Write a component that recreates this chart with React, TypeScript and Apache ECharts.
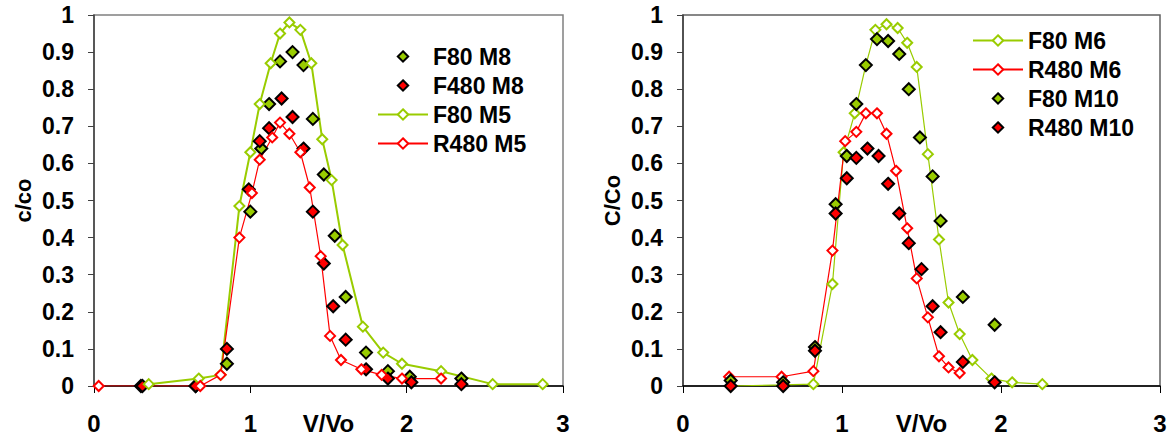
import React, { useEffect, useRef } from "react";
import * as echarts from "echarts";

// ---- Left chart data: [V/Vo, c/co] ----
const leftF80M8 = [[0.30,0.0],[0.65,0.0],[0.85,0.06],[1.00,0.47],[1.07,0.64],[1.12,0.76],[1.19,0.875],[1.27,0.90],[1.34,0.865],[1.40,0.72],[1.47,0.57],[1.54,0.405],[1.61,0.24],[1.74,0.09],[1.88,0.04],[2.02,0.025],[2.35,0.02]];
const leftF480M8 = [[0.31,0.0],[0.65,0.0],[0.85,0.10],[0.99,0.53],[1.06,0.66],[1.12,0.695],[1.20,0.775],[1.27,0.725],[1.34,0.64],[1.40,0.47],[1.47,0.33],[1.53,0.215],[1.61,0.125],[1.74,0.045],[1.88,0.02],[2.03,0.01],[2.35,0.005]];
const leftF80M5 = [[0.35,0.005],[0.67,0.02],[0.81,0.03],[0.93,0.485],[1.00,0.63],[1.06,0.76],[1.13,0.87],[1.19,0.95],[1.25,0.98],[1.32,0.96],[1.39,0.87],[1.46,0.665],[1.52,0.555],[1.59,0.38],[1.72,0.16],[1.85,0.09],[1.97,0.06],[2.22,0.04],[2.55,0.005],[2.87,0.005]];
const leftR480M5 = [[0.03,0.0],[0.68,0.0],[0.81,0.03],[0.93,0.40],[1.01,0.52],[1.06,0.61],[1.14,0.67],[1.19,0.71],[1.25,0.68],[1.32,0.63],[1.38,0.535],[1.45,0.35],[1.51,0.135],[1.58,0.07],[1.71,0.045],[1.84,0.03],[1.97,0.02],[2.22,0.02]];

// ---- Right chart data: [V/Vo, C/Co] ----
const rightF80M6 = [[0.30,0.0],[0.63,0.003],[0.82,0.005],[0.94,0.275],[1.01,0.63],[1.08,0.735],[1.15,0.865],[1.21,0.96],[1.28,0.975],[1.35,0.965],[1.41,0.925],[1.47,0.86],[1.54,0.625],[1.61,0.395],[1.67,0.225],[1.74,0.14],[1.82,0.07],[1.94,0.02],[2.07,0.01],[2.26,0.005]];
const rightR480M6 = [[0.29,0.025],[0.62,0.025],[0.82,0.04],[0.94,0.365],[1.02,0.66],[1.09,0.685],[1.15,0.735],[1.22,0.735],[1.28,0.68],[1.34,0.58],[1.41,0.425],[1.47,0.29],[1.54,0.185],[1.61,0.08],[1.67,0.05],[1.74,0.035]];
const rightF80M10 = [[0.30,0.015],[0.63,0.01],[0.83,0.105],[0.96,0.49],[1.03,0.62],[1.09,0.76],[1.15,0.865],[1.22,0.935],[1.29,0.93],[1.36,0.895],[1.42,0.80],[1.49,0.67],[1.57,0.565],[1.62,0.445],[1.76,0.24],[1.96,0.165]];
const rightR480M10 = [[0.30,0.0],[0.63,0.0],[0.83,0.095],[0.96,0.465],[1.03,0.56],[1.09,0.615],[1.16,0.64],[1.23,0.62],[1.29,0.545],[1.36,0.465],[1.42,0.385],[1.50,0.315],[1.57,0.215],[1.62,0.145],[1.76,0.065],[1.96,0.01]];

const leftLegend = ["F80 M8", "F480 M8", "F80 M5", "R480 M5"];
const rightLegend = ["F80 M6", "R480 M6", "F80 M10", "R480 M10"];
const xTitle = "V/Vo";
const leftYTitle = "c/co";
const rightYTitle = "C/Co";

const GREEN = "#99CC00";
const RED = "#FF0000";
const FONT = "'Liberation Sans', Arial, sans-serif";

export default function App() {
  const ref = useRef<HTMLDivElement>(null);
  useEffect(() => {
    document.body.style.margin = "0";
    const chart = echarts.init(ref.current!, null, { renderer: "svg" });

    const xAxisBase = (gridIndex: number) => ({
      gridIndex,
      type: "value",
      min: 0,
      max: 3,
      interval: 1,
      name: xTitle,
      nameLocation: "middle",
      nameGap: 25,
      nameMoveOverlap: false,
      nameTextStyle: { fontFamily: FONT, fontWeight: "bold", fontSize: 24, color: "#000" },
      axisLine: { show: true, onZero: false, lineStyle: { color: "#000", width: 1.5 } },
      axisTick: { show: true, inside: false, length: 7, lineStyle: { color: "#000" } },
      axisLabel: { margin: 25, fontFamily: FONT, fontWeight: "bold", fontSize: 24, color: "#000" },
      splitLine: { show: false },
    });
    const yAxisBase = (gridIndex: number, name: string) => ({
      gridIndex,
      type: "value",
      min: 0,
      max: 1,
      interval: 0.1,
      name,
      nameLocation: "middle",
      nameGap: 60,
      nameMoveOverlap: false,
      nameTextStyle: { fontFamily: FONT, fontWeight: "bold", fontSize: 22, color: "#000" },
      axisLine: { show: true, onZero: false, lineStyle: { color: "#404040", width: 1.5 } },
      axisTick: { show: true, inside: false, length: 6, lineStyle: { color: "#404040" } },
      axisLabel: {
        margin: 20,
        fontFamily: FONT,
        fontWeight: "bold",
        fontSize: 23,
        color: "#000",
        formatter: (v: number) => String(Number(v.toFixed(1))),
      },
      splitLine: { show: false },
    });

    // markers only (invisible connecting line so the legend shows just the diamond)
    const scatter = (name: string, data: number[][], color: string, idx: number) => ({
      name,
      type: "line",
      xAxisIndex: idx,
      yAxisIndex: idx,
      data,
      symbol: "diamond",
      symbolSize: 12,
      showAllSymbol: true,
      lineStyle: { opacity: 0, width: 0 },
      itemStyle: { color, borderColor: "#000", borderWidth: 2, opacity: 1 },
    });
    const line = (name: string, data: number[][], color: string, idx: number, width: number) => ({
      name,
      type: "line",
      xAxisIndex: idx,
      yAxisIndex: idx,
      data,
      symbol: "emptyDiamond",
      symbolSize: 10,
      showAllSymbol: true,
      lineStyle: { color, width },
      itemStyle: { color, borderColor: color, borderWidth: 1.5 },
    });

    const legendCommon = {
      orient: "vertical",
      itemWidth: 50,
      itemHeight: 13,
      itemGap: 6,
      textStyle: { fontFamily: FONT, fontWeight: "bold", fontSize: 23, color: "#000" },
    };

    chart.setOption({
      animation: false,
      backgroundColor: "#fff",
      grid: [
        { left: 94, top: 15, width: 469, height: 371, show: true, borderColor: "#808080", borderWidth: 1.5, outerBoundsMode: "none", containLabel: false },
        { left: 683, top: 15, width: 477, height: 371, show: true, borderColor: "#606060", borderWidth: 1.5, outerBoundsMode: "none", containLabel: false },
      ],
      xAxis: [xAxisBase(0), xAxisBase(1)],
      yAxis: [yAxisBase(0, leftYTitle), yAxisBase(1, rightYTitle)],
      legend: [
        { ...legendCommon, data: leftLegend, left: 372, top: 40 },
        { ...legendCommon, data: rightLegend, left: 967, top: 24 },
      ],
      series: [
        scatter(leftLegend[0], leftF80M8, GREEN, 0),
        scatter(leftLegend[1], leftF480M8, RED, 0),
        line(leftLegend[2], leftF80M5, GREEN, 0, 2),
        line(leftLegend[3], leftR480M5, RED, 0, 1.2),
        line(rightLegend[0], rightF80M6, GREEN, 1, 1.2),
        line(rightLegend[1], rightR480M6, RED, 1, 1.2),
        scatter(rightLegend[2], rightF80M10, GREEN, 1),
        scatter(rightLegend[3], rightR480M10, RED, 1),
      ],
    });
    return () => chart.dispose();
  }, []);
  return <div ref={ref} style={{ width: 1173, height: 441 }} />;
}
